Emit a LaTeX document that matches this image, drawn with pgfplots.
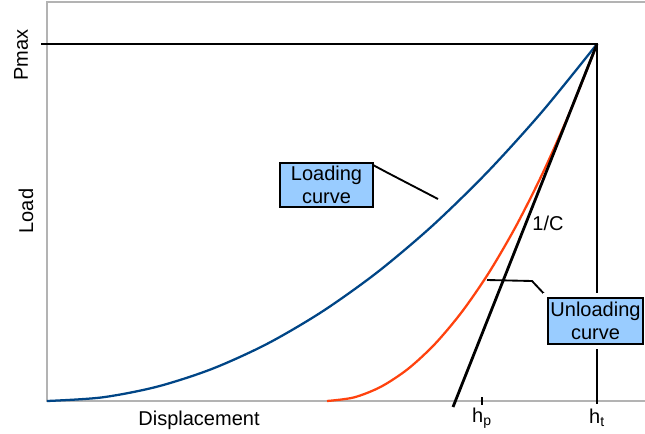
\documentclass[border=0pt]{standalone}
\usepackage{pgfplots}
\pgfplotsset{compat=1.18}
\usepackage{fontspec}
\setmainfont{Liberation Sans}
\definecolor{loadblue}{HTML}{004586}
\definecolor{unloadred}{HTML}{FF420E}
\definecolor{boxblue}{HTML}{99CCFF}
\definecolor{framegray}{HTML}{B3B3B3}
\tikzset{lbl/.style={font=\fontsize{15}{17}\selectfont}}
\begin{document}
\begin{tikzpicture}
\begin{axis}[x=0.75pt,y=0.75pt,xmin=0,xmax=645,ymin=-32,ymax=401,
  hide axis, clip=false]
\coordinate (BL) at (axis cs:0,-32);
\coordinate (TR) at (axis cs:645,401);
% frame
\draw[framegray, line width=1.4pt] (axis cs:645,399) -- (axis cs:47,399) -- (axis cs:47,0) -- (axis cs:645,0);
% loading curve
\addplot[loadblue, line width=1.7pt, smooth] coordinates {
(47,0) (102,3.6) (157,14.3) (212,32.1) (267,57.1) (322,89.3) (377,128.5) (432,174.9) (487,228.5) (542,289.2) (597,357)};
% unloading curve
\addplot[unloadred, line width=1.7pt, smooth] coordinates {
(327,0) (354,3.6) (381,14.3) (408,32.1) (435,57.1) (462,89.3) (489,128.5) (516,174.9) (543,228.5) (570,289.2) (597,357)};
% Pmax line and ht line
\addplot[black, line width=2.1pt] coordinates {(41,357) (597,357) (597,-3)};
% tangent 1/C
\addplot[black, line width=2.1pt] coordinates {(597,357) (453,-6)};
% hp tick
\addplot[black, line width=2.1pt] coordinates {(482,4) (482,-4)};
% leaders
\draw[black, line width=1.4pt] (axis cs:373,236) -- (axis cs:388,228) -- (axis cs:438,202);
\draw[black, line width=1.4pt] (axis cs:487,121) -- (axis cs:532,120) -- (axis cs:548,103);
% boxes
\node[lbl, draw=black, line width=1pt, fill=boxblue, minimum width=69.75pt, minimum height=33pt, inner sep=0pt, align=center] at (axis cs:326.5,216) {Loading\\curve};
\node[lbl, draw=black, line width=1pt, fill=boxblue, minimum width=71.25pt, minimum height=34.5pt, inner sep=0pt, align=center, preaction={draw=white, line width=8pt}] at (axis cs:595.5,80) {Unloading\\curve};
% labels
\node[lbl] at (axis cs:548,178) {1/C};
\node[lbl] at (axis cs:482,-17) {h\textsubscript{p}};
\node[lbl] at (axis cs:597,-17) {h\textsubscript{t}};
\node[lbl] at (axis cs:199,-19) {Displacement};
\node[lbl, rotate=90] at (axis cs:21,346) {Pmax};
\node[lbl, rotate=90] at (axis cs:26,190) {Load};
\end{axis}
\pgfresetboundingbox
\path[use as bounding box] (BL) rectangle (TR);
\end{tikzpicture}
\end{document}
